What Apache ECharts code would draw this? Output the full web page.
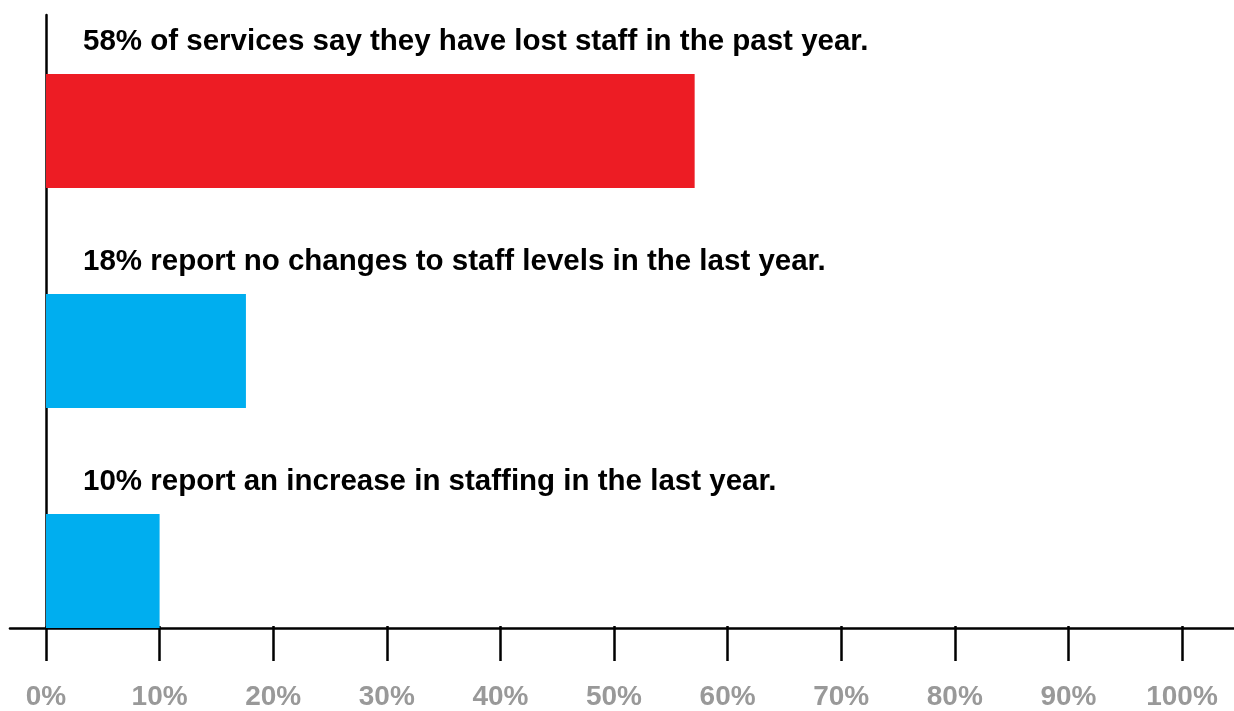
<!DOCTYPE html>
<html>
<head>
<meta charset="utf-8">
<script src="https://cdn.jsdelivr.net/npm/echarts@6/dist/echarts.min.js"></script>
<style>
html,body{margin:0;padding:0;background:#fff;}
#chart{width:1234px;height:711px;}
</style>
</head>
<body>
<div id="chart"></div>
<script>
const categories = [
  "58% of services say they have lost staff in the past year.",
  "18% report no changes to staff levels in the last year.",
  "10% report an increase in staffing in the last year."
];
const values = [57.1, 17.6, 10];
const barColors = ["#ED1C24", "#00AEEF", "#00AEEF"];
const tickValues = [0, 10, 20, 30, 40, 50, 60, 70, 80, 90, 100];

const FONT = '"Liberation Sans", Arial, Helvetica, sans-serif';
const chart = echarts.init(document.getElementById('chart'), null, {renderer: 'canvas'});

chart.setOption({
  backgroundColor: '#fff',
  animation: false,
  grid: [
    {left: 46, right: 52, top: 21, bottom: 30},
    {left: 46, right: 52, top: 15, bottom: 83},
    {left: 10, right: 0, top: 15, bottom: 83}
  ],
  xAxis: [
    {gridIndex: 0, type: 'value', min: 0, max: 100, show: false},
    {gridIndex: 1, type: 'value', min: tickValues[0], max: tickValues[tickValues.length - 1], interval: 10,
      axisLine: {show: false},
      axisTick: {show: true, length: 35, lineStyle: {color: '#000', width: 2.5}},
      splitLine: {show: false},
      axisLabel: {show: true, margin: 57, formatter: '{value}%', color: '#999999',
        fontSize: 28, fontWeight: 'bold', fontFamily: FONT}
    },
    {gridIndex: 2, type: 'value', min: 0, max: 1,
      axisLine: {show: true, onZero: false, lineStyle: {color: '#000', width: 2.6}},
      axisTick: {show: false}, axisLabel: {show: false}, splitLine: {show: false}
    }
  ],
  yAxis: [
    {gridIndex: 0, type: 'category', data: categories, inverse: true, show: false},
    {gridIndex: 1, type: 'value', min: 0, max: 1,
      axisLine: {show: true, onZero: false, lineStyle: {color: '#000', width: 2.5}},
      axisTick: {show: false}, axisLabel: {show: false}, splitLine: {show: false}
    },
    {gridIndex: 2, type: 'value', min: 0, max: 1, show: false}
  ],
  series: [{
    type: 'bar',
    xAxisIndex: 0,
    yAxisIndex: 0,
    barWidth: 114,
    z: 1,
    data: values.map((v, i) => ({value: v, itemStyle: {color: barColors[i]}})),
    label: {
      show: true,
      position: [37, -32],
      verticalAlign: 'middle',
      align: 'left',
      formatter: '{b}',
      color: '#000',
      fontSize: 29.5,
      fontWeight: 'bold',
      fontFamily: FONT
    }
  }]
});
</script>
</body>
</html>
